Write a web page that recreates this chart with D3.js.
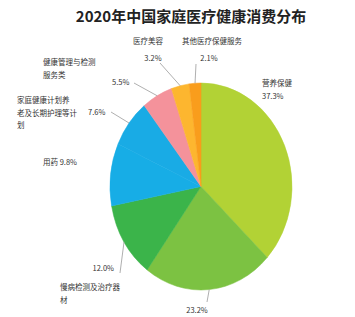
<!DOCTYPE html>
<html>
<head>
<meta charset="utf-8">
<script src="https://d3js.org/d3.v7.min.js"></script>
<style>
body { margin: 0; background: #fff; }
text { font-family: "Noto Sans CJK SC", "Noto Sans", sans-serif; }
</style>
</head>
<body>
<script>
// data
var categories = ["营养保健", "家用医疗器械", "慢病检测及治疗器材", "用药", "家庭健康计划养老及长期护理等", "健康管理与检测服务类", "医疗美容类", "其他医疗保健服务"];
var values = [37.3, 23.2, 12.0, 9.8, 7.6, 5.5, 3.2, 2.1];
var colors = ["#b2d235", "#7cc242", "#3bb44a", "#17ade6", "#19abe5", "#f4929b", "#fdb62f", "#f99d1c"];

// label text lines per slice (the 23.2% name sits below the picture edge)
var labelLines = [
  ["营养保健", "37.3%"],
  ["23.2%"],
  ["12.0%", "慢病检测及治疗器", "材"],
  ["用药 9.8%"],
  ["家庭健康计划养", "老及长期护理等计", "划", "7.6%"],
  ["健康管理与检测", "服务类", "5.5%"],
  ["医疗美容", "3.2%"],
  ["其他医疗保健服务", "2.1%"]
];

var W = 355, H = 317;
var cx = 201, cy = 186.5, rx = 91, ry = 103.5;

var svg = d3.select("body").append("svg")
  .attr("width", W)
  .attr("height", H);

svg.append("text")
  .attr("x", 191)
  .attr("y", 22)
  .attr("text-anchor", "middle")
  .attr("font-size", 15)
  .attr("font-weight", "bold")
  .attr("fill", "#222")
  .text("2020年中国家庭医疗健康消费分布");

var pie = d3.pie().sort(null).value(function(d) { return d; });
var arcs = pie(values);
var arc = d3.arc().innerRadius(0).outerRadius(rx);

var g = svg.append("g")
  .attr("transform", "translate(" + cx + "," + cy + ") scale(1," + (ry / rx) + ")");

g.selectAll("path")
  .data(arcs)
  .enter()
  .append("path")
  .attr("d", arc)
  .attr("fill", function(d, i) { return colors[i]; })
  .attr("stroke", function(d, i) { return colors[i]; })
  .attr("stroke-width", 0.5);

function edge(d) {
  var a = (d.startAngle + d.endAngle) / 2;
  return [cx + rx * Math.sin(a), cy - ry * Math.cos(a)];
}

// where each label sits
var place = [
  { x: 262, y: 86, anchor: "start", lx: null },
  { x: 197, y: 313, anchor: "middle", lx: 207, ly: 302 },
  { x: 114, y: 271, anchor: "end", lx: 120, ly: 273, sub: { x: 60, y: 290 } },
  { x: 43, y: 165, anchor: "start", lx: null },
  { x: 17, y: 103, anchor: "start", lx: 111, ly: 112, val: { x: 88, y: 115 } },
  { x: 43, y: 65, anchor: "start", lx: 134, ly: 83, val: { x: 112, y: 85 } },
  { x: 148, y: 44, anchor: "middle", lx: 160, ly: 63, val: { x: 153, y: 61 } },
  { x: 212, y: 44, anchor: "middle", lx: 196, ly: 64, val: { x: 209, y: 61 } }
];

var lab = svg.append("g").attr("font-size", 7.5).attr("fill", "#333");

arcs.forEach(function(d, i) {
  var p = place[i];
  var lines = labelLines[i].slice();
  if (p.lx != null) {
    var e = edge(d);
    lab.append("line")
      .attr("x1", e[0]).attr("y1", e[1])
      .attr("x2", p.lx).attr("y2", p.ly)
      .attr("stroke", "#9a9a9a")
      .attr("stroke-width", 0.8);
  }
  if (p.val) {
    var v = lines.pop();
    lab.append("text")
      .attr("x", p.val.x).attr("y", p.val.y)
      .attr("text-anchor", p.anchor == "middle" ? "middle" : "start")
      .text(v);
  }
  if (p.sub) {
    lab.append("text")
      .attr("x", p.x).attr("y", p.y)
      .attr("text-anchor", p.anchor)
      .text(lines[0]);
    lines.slice(1).forEach(function(t, j) {
      lab.append("text")
        .attr("x", p.sub.x).attr("y", p.sub.y + j * 13)
        .text(t);
    });
    return;
  }
  lines.forEach(function(t, j) {
    lab.append("text")
      .attr("x", p.x).attr("y", p.y + j * 12.5)
      .attr("text-anchor", p.anchor)
      .text(t);
  });
});
</script>
</body>
</html>
